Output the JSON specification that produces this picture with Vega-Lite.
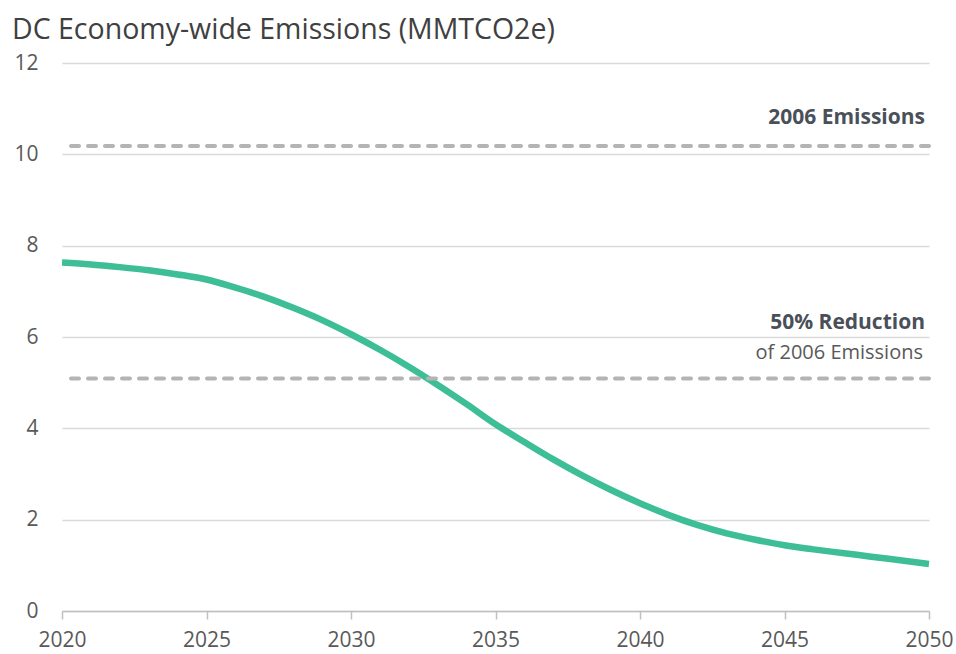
{
  "$schema": "https://vega.github.io/schema/vega-lite/v6.json",
  "width": 867,
  "height": 548,
  "autosize": "none",
  "padding": {"left": 62, "top": 63, "right": 27, "bottom": 43},
  "background": "white",
  "config": {
    "view": {"stroke": null},
    "font": "Open Sans"
  },
  "title": {
    "text": "DC Economy-wide Emissions (MMTCO2e)",
    "anchor": "start",
    "frame": "group",
    "dx": -50,
    "fontSize": 28.5,
    "fontWeight": "normal",
    "color": "#404040",
    "font": "Open Sans",
    "offset": 8
  },
  "datasets": {
    "emissions": [
      {"year": 2020, "value": 7.63},
      {"year": 2021, "value": 7.59},
      {"year": 2022, "value": 7.53},
      {"year": 2023, "value": 7.46},
      {"year": 2024, "value": 7.37},
      {"year": 2025, "value": 7.26},
      {"year": 2026, "value": 7.08},
      {"year": 2027, "value": 6.88},
      {"year": 2028, "value": 6.64},
      {"year": 2029, "value": 6.37},
      {"year": 2030, "value": 6.06},
      {"year": 2031, "value": 5.72},
      {"year": 2032, "value": 5.35},
      {"year": 2033, "value": 4.95},
      {"year": 2034, "value": 4.53},
      {"year": 2035, "value": 4.09},
      {"year": 2036, "value": 3.70},
      {"year": 2037, "value": 3.32},
      {"year": 2038, "value": 2.97},
      {"year": 2039, "value": 2.65},
      {"year": 2040, "value": 2.36},
      {"year": 2041, "value": 2.10},
      {"year": 2042, "value": 1.88},
      {"year": 2043, "value": 1.70},
      {"year": 2044, "value": 1.56},
      {"year": 2045, "value": 1.44},
      {"year": 2046, "value": 1.35},
      {"year": 2047, "value": 1.27},
      {"year": 2048, "value": 1.19},
      {"year": 2049, "value": 1.11},
      {"year": 2050, "value": 1.03}
    ],
    "refs": [
      {"label": "2006 Emissions", "value": 10.18},
      {"label": "50% Reduction of 2006 Emissions", "value": 5.09}
    ],
    "boldLabels": [
      {"year": 2050, "value": 10.79, "text": "2006 Emissions"},
      {"year": 2050, "value": 6.31, "text": "50% Reduction"}
    ],
    "plainLabels": [
      {"year": 2050, "value": 5.65, "text": "of 2006 Emissions"}
    ]
  },
  "layer": [
    {
      "data": {"name": "emissions"},
      "mark": {"type": "line", "color": "#3DBE96", "strokeWidth": 6.5, "strokeCap": "butt", "strokeJoin": "round", "interpolate": "monotone"},
      "encoding": {
        "x": {
          "field": "year",
          "type": "quantitative",
          "scale": {"domain": [2020, 2050], "nice": false, "zero": false},
          "axis": {
            "title": null,
            "values": [2020, 2025, 2030, 2035, 2040, 2045, 2050],
            "format": "d",
            "grid": false,
            "domainColor": "#BFBFBF",
            "domainWidth": 1.5,
            "tickColor": "#BFBFBF",
            "tickWidth": 1.5,
            "tickSize": 8,
            "labelPadding": 10,
            "labelFontSize": 21,
            "labelColor": "#595959",
            "labelFont": "Open Sans",
            "labelFlush": false
          }
        },
        "y": {
          "field": "value",
          "type": "quantitative",
          "scale": {"domain": [0, 12], "nice": false},
          "axis": {
            "title": null,
            "values": [0, 2, 4, 6, 8, 10, 12],
            "domain": false,
            "ticks": false,
            "grid": true,
            "gridColor": "#D9D9D9",
            "gridWidth": 1.5,
            "labelPadding": 24,
            "labelFontSize": 21,
            "labelColor": "#595959",
            "labelFont": "Open Sans"
          }
        }
      }
    },
    {
      "data": {"name": "refs"},
      "mark": {"type": "rule", "color": "#B4B4B4", "strokeWidth": 4, "strokeDash": [8, 9], "strokeCap": "round"},
      "encoding": {
        "y": {"field": "value", "type": "quantitative"}
      }
    },
    {
      "data": {"name": "boldLabels"},
      "mark": {"type": "text", "align": "right", "baseline": "middle", "fontSize": 21, "fontWeight": "bold", "color": "#4A5059", "font": "Open Sans", "dx": -4},
      "encoding": {
        "x": {"field": "year", "type": "quantitative"},
        "y": {"field": "value", "type": "quantitative"},
        "text": {"field": "text"}
      }
    },
    {
      "data": {"name": "plainLabels"},
      "mark": {"type": "text", "align": "right", "baseline": "middle", "fontSize": 20, "fontWeight": "normal", "color": "#595959", "font": "Open Sans", "dx": -6},
      "encoding": {
        "x": {"field": "year", "type": "quantitative"},
        "y": {"field": "value", "type": "quantitative"},
        "text": {"field": "text"}
      }
    }
  ]
}
